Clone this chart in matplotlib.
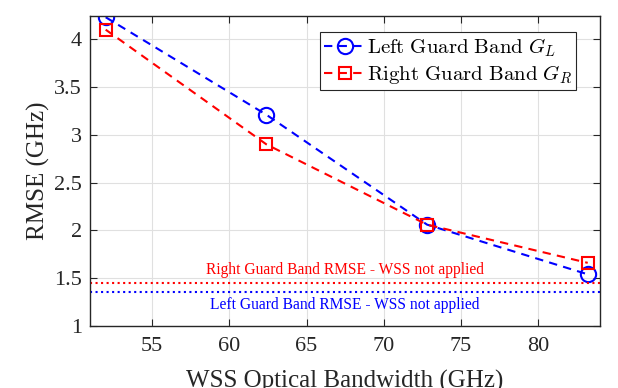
import matplotlib
matplotlib.use("Agg")
import matplotlib.pyplot as plt

bandwidth = [52.0, 62.4, 72.8, 83.2]
rmse_left = [4.23, 3.21, 2.06, 1.54]
rmse_right = [4.10, 2.90, 2.06, 1.66]
baseline_right = 1.445
baseline_left = 1.36
xticks = [55, 60, 65, 70, 75, 80]
yticks = [1, 1.5, 2, 2.5, 3, 3.5, 4]

plt.rcParams['font.family'] = ['Liberation Serif', 'DejaVu Serif']
plt.rcParams['mathtext.fontset'] = 'cm'

fig = plt.figure(figsize=(6.18, 3.88), dpi=100)
ax = fig.add_axes([0.146, 0.160, 0.825, 0.798])

ax.plot(bandwidth, rmse_left, linestyle=(0, (4, 3)), color='#0000ff', lw=1.5,
        marker='o', markersize=11, markerfacecolor='none', markeredgewidth=1.5,
        label=r'$\mathrm{Left\ Guard\ Band}\ G_L$')
ax.plot(bandwidth, rmse_right, linestyle=(0, (4, 3)), color='#ff0000', lw=1.5,
        marker='s', markersize=9, markerfacecolor='none', markeredgewidth=1.5,
        label=r'$\mathrm{Right\ Guard\ Band}\ G_R$')

ax.axhline(baseline_right, color='#ff0000', ls=':', lw=1.5)
ax.axhline(baseline_left, color='#0000ff', ls=':', lw=1.5)
ax.text(67.5, baseline_right + 0.055, 'Right Guard Band RMSE - WSS not applied',
        color='#ff0000', ha='center', va='bottom', fontsize=11.2)
ax.text(67.5, baseline_left - 0.06, 'Left Guard Band RMSE - WSS not applied',
        color='#0000ff', ha='center', va='top', fontsize=11.2)

ax.set_xlim(51, 84)
ax.set_ylim(1, 4.24)
ax.set_xticks(xticks)
ax.set_yticks(yticks)
ax.set_yticklabels(['1', '1.5', '2', '2.5', '3', '3.5', '4'])
ax.tick_params(direction='in', top=True, right=True, labelsize=16, length=5,
               color='#262626', labelcolor='#262626')
ax.tick_params(axis='x', pad=8.3)
ax.tick_params(axis='y', pad=6)
ax.grid(True, color='#e0e0e0', lw=0.8)
for s in ax.spines.values():
    s.set_color('#262626')
    s.set_linewidth(1.0)

ax.set_xlabel('WSS Optical Bandwidth (GHz)', fontsize=18, color='#262626')
ax.xaxis.set_label_coords(0.5, -0.142)
ax.xaxis.label.set_va('top')
ax.set_ylabel('RMSE (GHz)', fontsize=18, color='#262626')
ax.yaxis.set_label_coords(-0.078, 0.5)

leg = ax.legend(loc='upper right', bbox_to_anchor=(0.953, 0.948), fontsize=15,
                fancybox=False, edgecolor='#262626', framealpha=1,
                handlelength=2.0, handletextpad=0.05, borderpad=0.2,
                labelspacing=0.2, borderaxespad=0)
leg.get_frame().set_linewidth(0.8)

fig.savefig('out.png', dpi=100)
